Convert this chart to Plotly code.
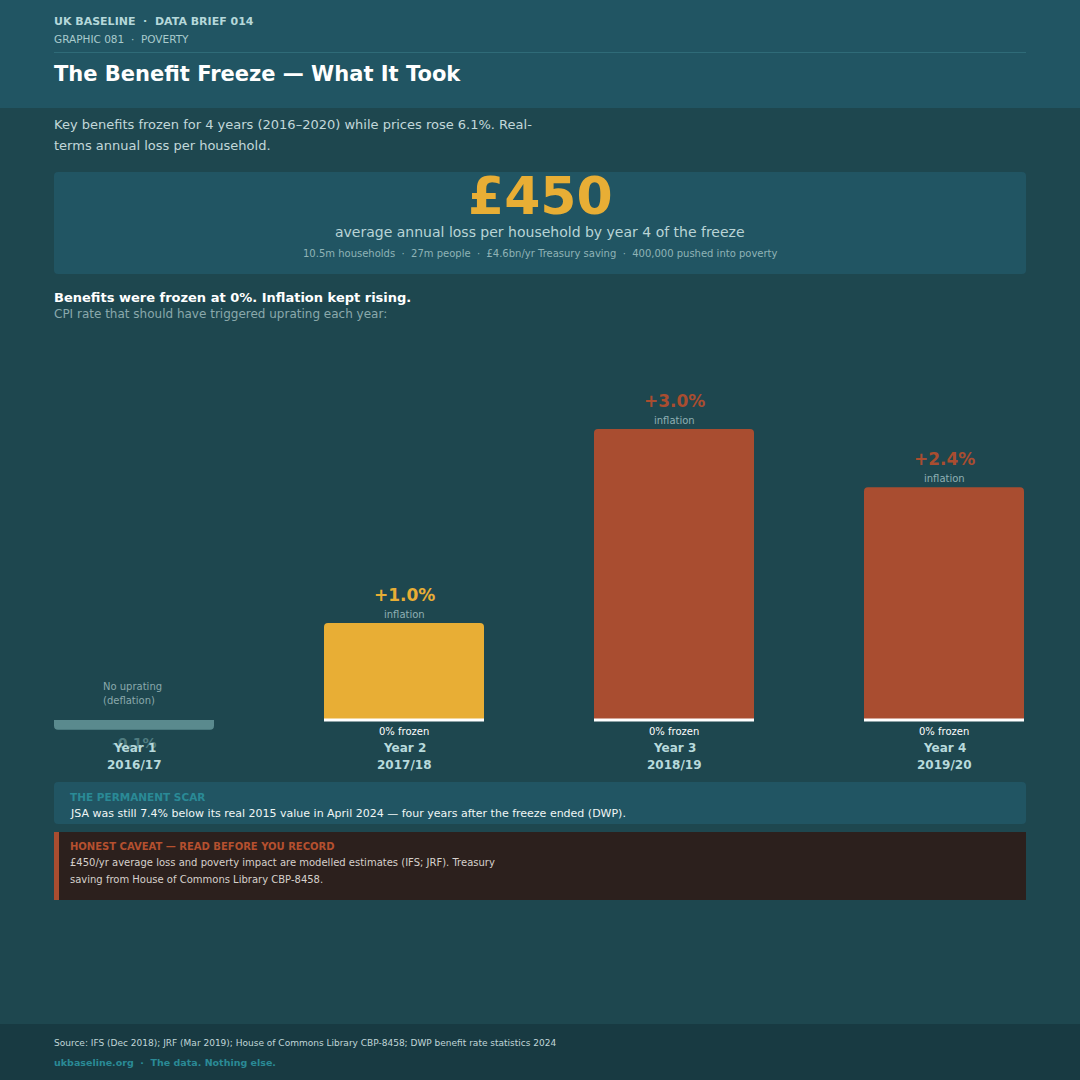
import plotly.graph_objects as go

# chart data
years = ["Year 1", "Year 2", "Year 3", "Year 4"]
periods = ["2016/17", "2017/18", "2018/19", "2019/20"]
cpi = [-0.1, 1.0, 3.0, 2.4]
bar_colors = ["#5a8a8e", "#e8ae35", "#a94d30", "#a94d30"]
frozen = [False, True, True, True]

headline_value = "£450"
headline_label = "average annual loss per household by year 4 of the freeze"
headline_stats = ["10.5m households", "27m people", "£4.6bn/yr Treasury saving", "400,000 pushed into poverty"]

W = 1080
H = 1080
FONT = "DejaVu Sans"
BG = "#1e474f"
PANEL = "#215563"

# geometry of the bar area (pixels)
px_per_pct = 97
base_px = 720
bar_w = 160 / 270
x_lo, x_hi = -0.5 * bar_w, 3 + 0.5 * bar_w
y_top_px, y_bot_px = 330, 742


def py(v):
    return 1 - v / H


def px(v):
    return v / W


def rrect(x0, y0, x1, y1, r):
    # rounded rect in paper coords, given pixel coords
    a0, a1 = px(x0), px(x1)
    b0, b1 = py(y0), py(y1)
    rx, ry = r / W, r / H
    return (f"M {a0+rx},{b0} L {a1-rx},{b0} Q {a1},{b0} {a1},{b0-ry} "
            f"L {a1},{b1+ry} Q {a1},{b1} {a1-rx},{b1} L {a0+rx},{b1} "
            f"Q {a0},{b1} {a0},{b1+ry} L {a0},{b0-ry} Q {a0},{b0} {a0+rx},{b0} Z")


fig = go.Figure()

xs = list(range(len(years)))
fig.add_trace(go.Bar(
    x=xs, y=cpi, width=[bar_w] * len(xs),
    marker=dict(color=bar_colors, line=dict(width=0), cornerradius=4),
    hoverinfo="skip", showlegend=False,
))

# white 0% baseline on frozen years
lx, ly = [], []
for i, f in enumerate(frozen):
    if f:
        lx += [i - bar_w / 2, i + bar_w / 2, None]
        ly += [0, 0, None]
fig.add_trace(go.Scatter(x=lx, y=ly, mode="lines", line=dict(color="#ffffff", width=3),
                         hoverinfo="skip", showlegend=False))

shapes = [
    dict(type="rect", xref="paper", yref="paper", x0=0, x1=1, y0=py(108), y1=1,
         fillcolor=PANEL, line=dict(width=0), layer="below"),
    dict(type="line", xref="paper", yref="paper", x0=px(54), x1=px(1026), y0=py(52.5), y1=py(52.5),
         line=dict(color="#2f6b78", width=1)),
    dict(type="path", xref="paper", yref="paper", path=rrect(54, 172, 1026, 274, 4),
         fillcolor=PANEL, line=dict(width=0), layer="below"),
    dict(type="path", xref="paper", yref="paper", path=rrect(54, 782, 1026, 824, 4),
         fillcolor=PANEL, line=dict(width=0), layer="below"),
    dict(type="rect", xref="paper", yref="paper", x0=px(54), x1=px(1026), y0=py(900), y1=py(832),
         fillcolor="#2c201d", line=dict(width=0), layer="below"),
    dict(type="rect", xref="paper", yref="paper", x0=px(54), x1=px(59), y0=py(900), y1=py(832),
         fillcolor="#a94d30", line=dict(width=0), layer="below"),
    dict(type="rect", xref="paper", yref="paper", x0=0, x1=1, y0=0, y1=py(1024),
         fillcolor="#183a42", line=dict(width=0), layer="below"),
]

ann = []


def txt(text, x, y, size, color, bold=False, xanchor="left"):
    if xanchor == "left":
        x -= 2  # annotation padding
    ann.append(dict(
        text=f"<b>{text}</b>" if bold else text, x=px(x), y=py(y), xref="paper", yref="paper",
        xanchor=xanchor, yanchor="middle", showarrow=False,
        font=dict(family=FONT, size=size, color=color),
    ))


SEP = "\u00a0\u00a0·\u00a0\u00a0"
txt("UK BASELINE" + SEP + "DATA BRIEF 014", 54, 21, 11, "#b5d8da", bold=True)
txt("GRAPHIC 081" + SEP + "POVERTY", 54, 39, 10.5, "#a9cbcd")
txt("The Benefit Freeze — What It Took", 54, 74, 21, "#ffffff", bold=True)
txt("Key benefits frozen for 4 years (2016–2020) while prices rose 6.1%. Real-", 54, 125, 13, "#c2d8da")
txt("terms annual loss per household.", 54, 145, 13, "#c2d8da")

txt(headline_value, 540, 196, 52, "#e8ae35", bold=True, xanchor="center")
txt(headline_label, 540, 232, 14, "#b9d4d6", xanchor="center")
txt(SEP.join(headline_stats), 540, 254, 10, "#8fb3b6", xanchor="center")

txt("Benefits were frozen at 0%. Inflation kept rising.", 54, 297, 13, "#ffffff", bold=True)
txt("CPI rate that should have triggered uprating each year:", 54, 314, 12, "#8aa9ac")

txt("THE PERMANENT SCAR", 70, 797, 10.5, "#2a8a96", bold=True)
txt("JSA was still 7.4% below its real 2015 value in April 2024 — four years after the freeze ended (DWP).",
    70, 813, 11, "#f0f5f5")

txt("HONEST CAVEAT — READ BEFORE YOU RECORD", 70, 846, 10, "#b5502f", bold=True)
txt("£450/yr average loss and poverty impact are modelled estimates (IFS; JRF). Treasury", 70, 862, 10, "#d6d0cc")
txt("saving from House of Commons Library CBP-8458.", 70, 879, 10, "#d6d0cc")

txt("Source: IFS (Dec 2018); JRF (Mar 2019); House of Commons Library CBP-8458; DWP benefit rate statistics 2024",
    54, 1043, 9, "#c0d6d8")
txt("ukbaseline.org" + SEP + "The data. Nothing else.", 54, 1062, 9.5, "#2a8a96", bold=True)

# per-bar labels through the axes
for i, v in enumerate(cpi):
    if v > 0:
        ann.append(dict(text=f"<b>+{v:.1f}%</b>", x=i, y=v, xref="x", yref="y", yshift=28,
                        showarrow=False, yanchor="middle",
                        font=dict(family=FONT, size=17, color=bar_colors[i])))
        ann.append(dict(text="inflation", x=i, y=v, xref="x", yref="y", yshift=9,
                        showarrow=False, yanchor="middle",
                        font=dict(family=FONT, size=10, color="#8fb0b3")))
    else:
        ann.append(dict(text=f"<b>{v:.1f}%</b>", x=i, y=v, xref="x", yref="y", yshift=-13,
                        showarrow=False, yanchor="middle",
                        font=dict(family=FONT, size=14, color="#4f7c80")))
        ann.append(dict(text="No uprating", x=i, y=0, xref="x", yref="y", xshift=-33, yshift=34,
                        showarrow=False, xanchor="left", yanchor="middle",
                        font=dict(family=FONT, size=10, color="#8aa9ac")))
        ann.append(dict(text="(deflation)", x=i, y=0, xref="x", yref="y", xshift=-33, yshift=20,
                        showarrow=False, xanchor="left", yanchor="middle",
                        font=dict(family=FONT, size=10, color="#8aa9ac")))
    if frozen[i]:
        ann.append(dict(text="0% frozen", x=i, y=0, xref="x", yref="y", yshift=-11,
                        showarrow=False, yanchor="middle",
                        font=dict(family=FONT, size=10, color="#ffffff")))
    ann.append(dict(text=f"<b>{years[i]}</b>", x=i, y=0, xref="x", yref="y", yshift=-28,
                    showarrow=False, yanchor="middle",
                    font=dict(family=FONT, size=12, color="#b8dadc")))
    ann.append(dict(text=f"<b>{periods[i]}</b>", x=i, y=0, xref="x", yref="y", yshift=-45,
                    showarrow=False, yanchor="middle",
                    font=dict(family=FONT, size=12, color="#b8dadc")))

fig.update_layout(
    width=W, height=H, margin=dict(l=0, r=0, t=0, b=0),
    paper_bgcolor=BG, plot_bgcolor="rgba(0,0,0,0)",
    shapes=shapes, annotations=ann, showlegend=False,
    xaxis=dict(domain=[px(54), px(1024)], range=[x_lo, x_hi], visible=False, fixedrange=True),
    yaxis=dict(domain=[py(y_bot_px), py(y_top_px)],
               range=[(base_px - y_bot_px) / px_per_pct, (base_px - y_top_px) / px_per_pct],
               visible=False, fixedrange=True),
    font=dict(family=FONT),
)

fig.write_html("out.html", config={"displayModeBar": False},
               post_script="document.body.style.margin='0';document.body.style.background='#1e474f';")
